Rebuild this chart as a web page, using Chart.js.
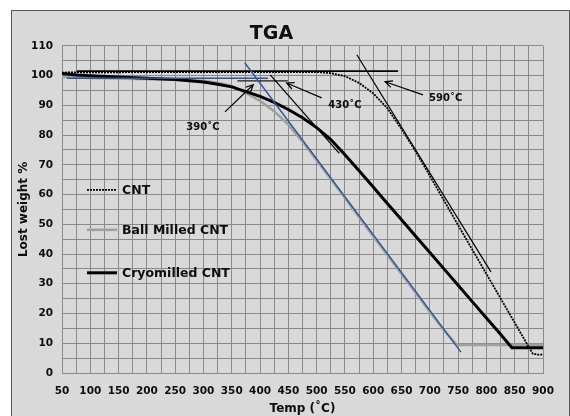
<!DOCTYPE html>
<html>
<head>
<meta charset="utf-8">
<script src="https://cdn.jsdelivr.net/npm/chart.js@4"></script>
<style>
  html, body { margin: 0; padding: 0; background: #ffffff; }
  #wrap { width: 570px; height: 416px; position: relative; }
</style>
</head>
<body>
<div id="wrap"><canvas id="tga" aria-label="TGA chart" role="img"></canvas></div>
<script>
// values
var cntTemp = [50, 100, 150, 200, 250, 300, 350, 400, 450, 500, 525, 550, 575, 600, 625, 650, 675, 700, 725, 750, 775, 800, 825, 850, 875, 882, 890, 900];
var cntWeight = [101, 101.1, 101.1, 101.2, 101.2, 101.2, 101.2, 101.2, 101.2, 101.2, 100.8, 99.8, 97.5, 94, 89, 82, 74.5, 66.3, 58, 49.7, 41.5, 33.3, 25.1, 16.9, 8.7, 6.5, 6.2, 6.2];

var ballTemp = [50, 100, 150, 200, 250, 300, 325, 350, 375, 400, 425, 450, 475, 500, 525, 550, 575, 600, 625, 650, 675, 700, 725, 748, 775, 800, 825, 850, 875, 900];
var ballWeight = [99.5, 99.2, 99, 98.8, 98.6, 98.2, 97.6, 96.5, 94.2, 91.5, 88, 83.5, 77.8, 71.5, 65.2, 58.8, 52.4, 46, 39.7, 33.3, 27, 20.6, 14.3, 9.4, 9.4, 9.4, 9.4, 9.4, 9.4, 9.4];

var cryoTemp = [50, 75, 100, 150, 200, 250, 300, 325, 350, 375, 400, 425, 450, 475, 500, 525, 550, 575, 600, 625, 650, 675, 700, 725, 750, 775, 800, 825, 845, 850, 875, 900];
var cryoWeight = [100.7, 100.2, 99.9, 99.5, 99.1, 98.7, 97.8, 97.1, 96.2, 94.6, 93, 91, 88.6, 85.8, 82.5, 78.5, 73.4, 68, 62.5, 57, 51.5, 46, 40.5, 35, 29.5, 24, 18.5, 13, 8.5, 8.5, 8.5, 8.5];

// tangent / onset construction lines
var blueTanTemp = [373, 755], blueTanWeight = [104.3, 7];
var blueBaseTemp = [59, 414], blueBaseWeight = [99.1, 99.1];
var tan430Temp = [418, 540], tan430Weight = [100.2, 73.8];
var base430Temp = [360, 449], base430Weight = [98.2, 98.2];
var tan590Temp = [571, 808], tan590Weight = [107, 34];
var base590Temp = [76, 644], base590Weight = [101.5, 101.5];

// onset arrows and labels
var onsetLabels = ["390˚C", "430˚C", "590˚C"];
var labelTemp = [299, 550, 728];
var labelWeight = [82.4, 89.8, 92.2];
var arrowTailTemp = [338, 509, 688];
var arrowTailWeight = [87.8, 92.5, 93.5];
var arrowHeadTemp = [388, 447, 621];
var arrowHeadWeight = [96.9, 97.5, 97.9];

var xTicks = [50, 100, 150, 200, 250, 300, 350, 400, 450, 500, 550, 600, 650, 700, 750, 800, 850, 900];
var yTicks = [0, 10, 20, 30, 40, 50, 60, 70, 80, 90, 100, 110];

function pts(xs, ys) {
  var out = [];
  for (var i = 0; i < xs.length; i++) out.push({ x: xs[i], y: ys[i] });
  return out;
}

var FONT = "'DejaVu Sans', sans-serif";
var TEXT = "#0d0d0d";

function lineSet(label, xs, ys, color, width, order, dash, legend) {
  return {
    label: label,
    data: pts(xs, ys),
    borderColor: color,
    backgroundColor: color,
    borderWidth: width,
    borderDash: dash || [],
    pointRadius: 0,
    tension: 0,
    fill: false,
    order: order,
    inLegend: !!legend
  };
}

var chartBg = {
  id: "chartBg",
  beforeDraw: function (chart) {
    var c = chart.ctx;
    c.save();
    c.fillStyle = "#ffffff";
    c.fillRect(0, 0, chart.width, chart.height);
    c.fillStyle = "#d9d9d9";
    c.fillRect(11, 10, chart.width - 11, chart.height);
    c.strokeStyle = "#595959";
    c.lineWidth = 1;
    c.strokeRect(11.5, 10.5, chart.width - 12, chart.height + 5);
    c.restore();
  }
};

var onsetMarks = {
  id: "onsetMarks",
  afterDatasetsDraw: function (chart) {
    var c = chart.ctx, xs = chart.scales.x, ys = chart.scales.y;
    c.save();
    c.strokeStyle = "#000000";
    c.lineWidth = 1.2;
    for (var i = 0; i < arrowTailTemp.length; i++) {
      var x0 = xs.getPixelForValue(arrowTailTemp[i]), y0 = ys.getPixelForValue(arrowTailWeight[i]);
      var x1 = xs.getPixelForValue(arrowHeadTemp[i]), y1 = ys.getPixelForValue(arrowHeadWeight[i]);
      var a = Math.atan2(y1 - y0, x1 - x0);
      c.beginPath();
      c.moveTo(x0, y0);
      c.lineTo(x1, y1);
      c.moveTo(x1 - 8 * Math.cos(a - 0.45), y1 - 8 * Math.sin(a - 0.45));
      c.lineTo(x1, y1);
      c.lineTo(x1 - 8 * Math.cos(a + 0.45), y1 - 8 * Math.sin(a + 0.45));
      c.stroke();
    }
    c.fillStyle = TEXT;
    c.font = "bold 10px " + FONT;
    c.textAlign = "center";
    c.textBaseline = "middle";
    for (var j = 0; j < onsetLabels.length; j++) {
      c.fillText(onsetLabels[j], xs.getPixelForValue(labelTemp[j]), ys.getPixelForValue(labelWeight[j]));
    }
    c.restore();
  }
};

var innerLegend = {
  id: "innerLegend",
  afterDraw: function (chart) {
    var c = chart.ctx, area = chart.chartArea;
    var rows = [144, 184, 227];
    var k = 0;
    c.save();
    c.font = "bold 12.5px " + FONT;
    c.textBaseline = "middle";
    c.textAlign = "left";
    chart.data.datasets.forEach(function (ds) {
      if (!ds.inLegend) return;
      var y = area.top + rows[k++];
      c.strokeStyle = ds.borderColor;
      c.lineWidth = ds.borderWidth;
      c.setLineDash(ds.borderDash);
      c.beginPath();
      c.moveTo(area.left + 25, y);
      c.lineTo(area.left + 55, y);
      c.stroke();
      c.setLineDash([]);
      c.fillStyle = TEXT;
      c.fillText(ds.label, area.left + 60, y + 1);
    });
    c.restore();
  }
};

new Chart(document.getElementById("tga"), {
  type: "line",
  data: {
    datasets: [
      lineSet("CNT", cntTemp, cntWeight, "#000000", 1.8, 5, [2, 1], true),
      lineSet("Ball Milled CNT", ballTemp, ballWeight, "#a0a0a0", 2.6, 7, null, true),
      lineSet("Cryomilled CNT", cryoTemp, cryoWeight, "#000000", 3, 4, null, true),
      lineSet("blue tangent", blueTanTemp, blueTanWeight, "#2f5597", 1.4, 1),
      lineSet("blue base", blueBaseTemp, blueBaseWeight, "#2f5597", 1.4, 1),
      lineSet("430 tangent", tan430Temp, tan430Weight, "#000000", 1.2, 2),
      lineSet("430 base", base430Temp, base430Weight, "#1a1a1a", 1.4, 2),
      lineSet("590 tangent", tan590Temp, tan590Weight, "#000000", 1.2, 2),
      lineSet("590 base", base590Temp, base590Weight, "#000000", 1.8, 3)
    ]
  },
  options: {
    responsive: true,
    maintainAspectRatio: false,
    devicePixelRatio: 1,
    animation: false,
    layout: { padding: { left: 0, right: 27, top: 0, bottom: 0 } },
    plugins: {
      legend: { display: false },
      tooltip: { enabled: false },
      title: {
        display: true,
        text: "TGA",
        color: TEXT,
        font: { family: FONT, size: 19, weight: "bold", lineHeight: 1.2 },
        padding: { top: 23, bottom: 0 }
      }
    },
    scales: {
      x: {
        type: "linear",
        min: 50,
        max: 900,
        afterBuildTicks: function (scale) {
          var t = [];
          for (var v = 50; v <= 900; v += 25) t.push({ value: v });
          scale.ticks = t;
        },
        afterFit: function (scale) { scale.height = 43; },
        grid: { color: "#8a8a8a", lineWidth: 1, drawTicks: false },
        border: { color: "#8a8a8a" },
        ticks: {
          autoSkip: false,
          maxRotation: 0,
          padding: 12,
          color: TEXT,
          font: { family: FONT, size: 10.5, weight: "bold" },
          callback: function (v) { return xTicks.indexOf(v) >= 0 ? String(v) : ""; }
        },
        title: {
          display: true,
          text: "Temp (˚C)",
          color: TEXT,
          font: { family: FONT, size: 12, weight: "bold", lineHeight: 1.2 },
          padding: { top: 0, bottom: 0 }
        }
      },
      y: {
        min: 0,
        max: 110,
        afterBuildTicks: function (scale) {
          var t = [];
          for (var v = 0; v <= 110; v += 5) t.push({ value: v });
          scale.ticks = t;
        },
        afterFit: function (scale) { scale.width = 62; },
        grid: { color: "#8a8a8a", lineWidth: 1, drawTicks: false },
        border: { color: "#8a8a8a" },
        ticks: {
          autoSkip: false,
          padding: 9,
          color: TEXT,
          font: { family: FONT, size: 10.5, weight: "bold" },
          callback: function (v) { return yTicks.indexOf(v) >= 0 ? String(v) : ""; }
        },
        title: {
          display: true,
          text: "Lost weight %",
          color: TEXT,
          font: { family: FONT, size: 12, weight: "bold", lineHeight: 1.2 },
          padding: { top: 17, bottom: 0 }
        }
      }
    }
  },
  plugins: [chartBg, onsetMarks, innerLegend]
});
</script>
</body>
</html>
